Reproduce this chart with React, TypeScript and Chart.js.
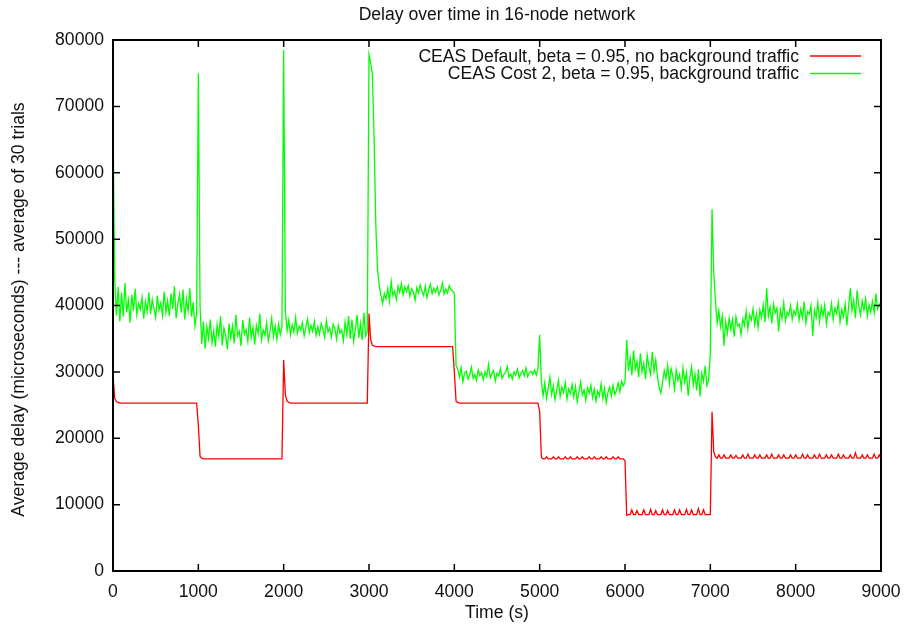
import React, { useEffect, useRef } from "react";
import { Chart, registerables } from "chart.js";

Chart.register(...registerables);

// ---- Text ----
const CHART_TITLE = "Delay over time in 16-node network";
const X_TITLE = "Time (s)";
const Y_TITLE = "Average delay (microseconds) --- average of 30 trials";
const SERIES_LABELS = [
  "CEAS Default, beta = 0.95, no background traffic",
  "CEAS Cost 2, beta = 0.95, background traffic",
];
const SERIES_COLORS = ["#ff0000", "#00ff00"];

// ---- Axes ----
const X_TICKS = [0, 1000, 2000, 3000, 4000, 5000, 6000, 7000, 8000, 9000];
const Y_TICKS = [0, 10000, 20000, 30000, 40000, 50000, 60000, 70000, 80000];

// Samples are taken every 20 s; delays below are in thousands of microseconds.
const SAMPLE_STEP_S = 20;

// ---- CEAS Default, no background traffic (per 1000 s block) ----
const noBg0k = [
  29.5, 26.0, 25.5, 25.4, 25.3, 25.3, 25.3, 25.3, 25.3, 25.3,
  25.3, 25.3, 25.3, 25.3, 25.3, 25.3, 25.3, 25.3, 25.3, 25.3,
  25.3, 25.3, 25.3, 25.3, 25.3, 25.3, 25.3, 25.3, 25.3, 25.3,
  25.3, 25.3, 25.3, 25.3, 25.3, 25.3, 25.3, 25.3, 25.3, 25.3,
  25.3, 25.3, 25.3, 25.3, 25.3, 25.3, 25.3, 25.3, 25.3, 25.3,
];
const noBg1k = [
  22.0, 17.3, 17.0, 16.9, 16.9, 16.9, 16.9, 16.9, 16.9, 16.9,
  16.9, 16.9, 16.9, 16.9, 16.9, 16.9, 16.9, 16.9, 16.9, 16.9,
  16.9, 16.9, 16.9, 16.9, 16.9, 16.9, 16.9, 16.9, 16.9, 16.9,
  16.9, 16.9, 16.9, 16.9, 16.9, 16.9, 16.9, 16.9, 16.9, 16.9,
  16.9, 16.9, 16.9, 16.9, 16.9, 16.9, 16.9, 16.9, 16.9, 16.9,
];
const noBg2k = [
  31.8, 26.5, 25.6, 25.4, 25.3, 25.3, 25.3, 25.3, 25.3, 25.3,
  25.3, 25.3, 25.3, 25.3, 25.3, 25.3, 25.3, 25.3, 25.3, 25.3,
  25.3, 25.3, 25.3, 25.3, 25.3, 25.3, 25.3, 25.3, 25.3, 25.3,
  25.3, 25.3, 25.3, 25.3, 25.3, 25.3, 25.3, 25.3, 25.3, 25.3,
  25.3, 25.3, 25.3, 25.3, 25.3, 25.3, 25.3, 25.3, 25.3, 25.3,
];
const noBg3k = [
  38.8, 34.8, 34.0, 33.9, 33.8, 33.8, 33.8, 33.8, 33.8, 33.8,
  33.8, 33.8, 33.8, 33.8, 33.8, 33.8, 33.8, 33.8, 33.8, 33.8,
  33.8, 33.8, 33.8, 33.8, 33.8, 33.8, 33.8, 33.8, 33.8, 33.8,
  33.8, 33.8, 33.8, 33.8, 33.8, 33.8, 33.8, 33.8, 33.8, 33.8,
  33.8, 33.8, 33.8, 33.8, 33.8, 33.8, 33.8, 33.8, 33.8, 33.8,
];
const noBg4k = [
  30.0, 25.6, 25.4, 25.3, 25.3, 25.3, 25.3, 25.3, 25.3, 25.3,
  25.3, 25.3, 25.3, 25.3, 25.3, 25.3, 25.3, 25.3, 25.3, 25.3,
  25.3, 25.3, 25.3, 25.3, 25.3, 25.3, 25.3, 25.3, 25.3, 25.3,
  25.3, 25.3, 25.3, 25.3, 25.3, 25.3, 25.3, 25.3, 25.3, 25.3,
  25.3, 25.3, 25.3, 25.3, 25.3, 25.3, 25.3, 25.3, 25.3, 25.3,
];
const noBg5k = [
  24.0, 17.1, 16.9, 16.9, 17.2, 16.9, 16.9, 16.9, 17.2, 16.9,
  16.9, 17.2, 16.9, 16.9, 16.9, 17.2, 16.9, 16.9, 17.2, 16.9,
  16.9, 16.9, 17.2, 16.9, 16.9, 17.2, 16.9, 16.9, 16.9, 17.2,
  16.9, 16.9, 17.2, 16.9, 16.9, 16.9, 17.2, 16.9, 16.9, 17.2,
  16.9, 16.9, 16.9, 17.2, 16.9, 16.9, 17.2, 16.9, 16.9, 16.9,
];
const noBg6k = [
  16.6, 8.4, 8.5, 8.5, 9.2, 8.5, 8.5, 9.1, 8.5, 8.5,
  8.5, 9.2, 8.5, 8.5, 8.5, 9.3, 8.5, 8.5, 9.1, 8.5,
  8.5, 8.5, 9.2, 8.5, 8.5, 9.1, 8.5, 8.5, 8.5, 9.2,
  8.5, 8.5, 9.2, 8.5, 8.5, 8.5, 9.3, 8.5, 8.5, 9.2,
  8.5, 8.5, 8.5, 9.4, 8.5, 8.5, 9.2, 8.5, 8.5, 8.5,
];
const noBg7k = [
  8.5, 24.0, 18.0, 17.2, 17.0, 17.5, 17.0, 17.0, 17.5, 17.0,
  17.0, 17.0, 17.5, 17.0, 17.0, 17.4, 17.0, 17.0, 17.0, 17.5,
  17.0, 17.0, 17.6, 17.0, 17.0, 17.0, 17.5, 17.0, 17.0, 17.5,
  17.0, 17.0, 17.0, 17.5, 17.0, 17.0, 17.6, 17.0, 17.0, 17.0,
  17.5, 17.0, 17.0, 17.5, 17.0, 17.0, 17.0, 17.5, 17.0, 17.0,
];
const noBg8k = [
  17.5, 17.0, 17.0, 17.0, 17.6, 17.0, 17.0, 17.5, 17.0, 17.0,
  17.0, 17.5, 17.0, 17.0, 17.6, 17.0, 17.0, 17.0, 17.5, 17.0,
  17.0, 17.5, 17.0, 17.0, 17.0, 17.6, 17.0, 17.0, 17.5, 17.0,
  17.0, 17.0, 17.5, 17.0, 17.0, 17.8, 17.0, 17.0, 17.0, 17.5,
  17.0, 17.0, 17.5, 17.0, 17.0, 17.0, 17.6, 17.0, 17.0, 17.5,
];
const noBgEnd = [17.0];

// ---- CEAS Cost 2, background traffic (per 1000 s block) ----
const bg0k = [
  68.0, 44.0, 38.5, 42.8, 37.6, 41.9, 38.3, 43.4, 39.0, 40.8,
  37.4, 41.6, 39.2, 42.5, 38.6, 40.3, 39.4, 41.2, 38.0, 40.6,
  39.1, 42.0, 38.7, 40.9, 39.6, 38.2, 41.5, 39.3, 40.4, 38.5,
  42.1, 39.0, 40.7, 38.4, 41.8, 39.5, 42.9, 38.1, 40.2, 41.7,
  38.9, 42.4, 37.9, 41.0, 39.2, 42.6, 38.3, 40.5, 36.9, 38.8,
];
const bg1k = [
  75.0, 40.0, 34.2, 37.6, 33.5, 36.8, 35.0, 37.9, 34.4, 36.2,
  33.8, 37.1, 35.3, 38.4, 34.0, 36.6, 35.6, 33.4, 37.3, 35.1,
  36.9, 34.3, 38.6, 35.4, 36.1, 33.9, 37.8, 35.7, 36.4, 34.6,
  38.2, 35.2, 36.7, 34.1, 37.0, 35.8, 38.8, 34.8, 36.3, 35.5,
  37.4, 34.7, 36.0, 38.1, 35.3, 36.9, 34.9, 37.2, 35.6, 36.8,
];
const bg2k = [
  78.5, 39.0, 36.2, 37.8, 35.6, 37.1, 36.0, 38.2, 35.8, 36.9,
  36.3, 37.4, 35.4, 36.7, 38.0, 35.9, 37.0, 36.1, 37.6, 35.5,
  36.8, 35.7, 37.3, 36.4, 35.2, 37.7, 36.0, 36.6, 35.3, 37.2,
  36.5, 34.9, 37.0, 35.8, 36.3, 34.7, 37.5, 35.6, 38.4, 35.0,
  37.9, 34.6, 36.4, 38.6, 35.1, 37.3, 34.8, 38.9, 35.4, 36.0,
];
const bg3k = [
  77.8, 76.5, 74.8, 65.0, 52.0, 45.5, 43.0, 41.5, 40.3, 41.8,
  41.0, 42.6, 40.6, 43.6, 41.5, 42.2, 40.9, 42.9, 42.0, 43.3,
  41.6, 42.8, 42.1, 43.0, 41.4, 42.5, 42.0, 40.8, 42.7, 41.9,
  43.1, 42.2, 41.5, 42.9, 41.2, 42.4, 43.2, 41.8, 42.6, 42.0,
  42.8, 41.6, 42.3, 43.4, 41.7, 42.5, 41.9, 43.0, 42.4, 42.2,
];
const bg4k = [
  41.8, 31.0, 30.4, 29.2, 30.6, 28.5, 29.8, 30.1, 28.9, 29.5,
  30.7, 29.0, 29.6, 28.7, 30.3, 29.4, 29.9, 28.8, 30.0, 29.3,
  31.1, 29.1, 29.7, 30.2, 28.6, 29.8, 29.4, 30.5, 29.0, 29.6,
  29.9, 30.8, 29.2, 29.7, 28.9, 30.0, 29.5, 30.4, 29.1, 29.8,
  30.2, 29.4, 30.6, 29.3, 29.9, 30.1, 29.6, 30.3, 29.5, 30.5,
];
const bg5k = [
  35.6, 28.6, 26.4, 28.3, 26.0, 27.5, 29.2, 26.6, 27.9, 25.8,
  27.2, 28.7, 26.3, 27.7, 26.9, 28.4, 25.9, 27.4, 26.7, 28.1,
  26.2, 27.8, 25.5, 27.0, 28.5, 26.5, 27.3, 25.7, 27.6, 26.8,
  28.0, 26.1, 27.4, 25.6, 27.1, 26.4, 28.2, 26.0, 27.5, 25.4,
  26.9, 27.7, 26.3, 28.0, 26.6, 27.2, 28.3, 27.0, 28.6, 27.9,
];
const bg6k = [
  28.4, 34.8, 30.2, 32.1, 29.5, 33.2, 30.4, 31.6, 29.2, 32.8,
  30.0, 31.3, 28.9, 32.5, 30.8, 29.6, 33.0, 30.1, 31.8, 29.3,
  27.6, 26.8, 28.4, 30.2, 29.0, 31.0, 28.2, 30.5, 29.4, 27.4,
  30.3, 28.7, 29.6, 27.5, 30.6, 28.5, 29.9, 26.4, 29.1, 30.8,
  28.0, 29.7, 27.2, 30.4, 26.3, 29.8, 28.6, 30.9, 27.9, 28.7,
];
const bg7k = [
  32.8, 54.5, 45.0, 40.6, 37.4, 39.2, 36.8, 38.4, 33.9, 37.6,
  35.8, 38.1, 36.4, 37.9, 35.3, 38.3, 36.9, 37.2, 35.6, 38.0,
  37.0, 39.1, 36.5, 38.6, 37.8, 39.5, 37.1, 38.8, 36.7, 39.3,
  38.2, 40.1, 37.5, 42.6, 38.4, 39.8, 37.3, 40.2, 38.9, 39.6,
  36.1, 39.4, 38.0, 40.4, 37.7, 39.0, 38.5, 40.0, 37.9, 39.2,
];
const bg8k = [
  38.6, 40.2, 37.8, 39.5, 38.1, 40.6, 37.4, 39.1, 38.7, 40.0,
  35.4, 39.3, 38.2, 40.4, 37.6, 39.8, 38.4, 40.1, 37.2, 39.0,
  38.5, 40.3, 37.9, 39.6, 38.8, 40.5, 37.5, 39.4, 38.3, 40.2,
  37.0, 39.7, 42.6, 39.2, 40.8, 38.1, 42.3, 39.9, 38.6, 40.7,
  39.3, 41.0, 38.4, 40.1, 39.0, 40.6, 38.9, 41.8, 39.5, 40.2,
];
const bgEnd = [39.6];

const noBgDelayK = [
  ...noBg0k, ...noBg1k, ...noBg2k, ...noBg3k, ...noBg4k,
  ...noBg5k, ...noBg6k, ...noBg7k, ...noBg8k, ...noBgEnd,
];
const bgDelayK = [
  ...bg0k, ...bg1k, ...bg2k, ...bg3k, ...bg4k,
  ...bg5k, ...bg6k, ...bg7k, ...bg8k, ...bgEnd,
];

const toPoints = (delaysK: number[]) =>
  delaysK.map((k, i) => ({ x: i * SAMPLE_STEP_S, y: k * 1000 }));

const FONT_FAMILY = '"Liberation Sans", Arial, Helvetica, sans-serif';
const FONT_SIZE = 17.6;
const TEXT_COLOR = "#111111";

// Frame with inward, mirrored ticks, plus title, axis titles and key.
const gnuplotDecor = {
  id: "gnuplotDecor",
  afterDatasetsDraw(chart: any) {
    const { ctx, chartArea: a, scales } = chart;
    const tickLen = 7;
    ctx.save();
    ctx.strokeStyle = "#000";
    ctx.lineWidth = 1.5;
    ctx.beginPath();
    for (const t of scales.x.ticks) {
      const px = scales.x.getPixelForValue(t.value);
      ctx.moveTo(px, a.bottom);
      ctx.lineTo(px, a.bottom - tickLen);
      ctx.moveTo(px, a.top);
      ctx.lineTo(px, a.top + tickLen);
    }
    for (const t of scales.y.ticks) {
      const py = scales.y.getPixelForValue(t.value);
      ctx.moveTo(a.left, py);
      ctx.lineTo(a.left + tickLen, py);
      ctx.moveTo(a.right, py);
      ctx.lineTo(a.right - tickLen, py);
    }
    ctx.stroke();
    ctx.lineWidth = 2;
    ctx.strokeRect(a.left, a.top, a.right - a.left, a.bottom - a.top);
    ctx.restore();
  },
  afterDraw(chart: any) {
    const { ctx, chartArea: a } = chart;
    const midX = (a.left + a.right) / 2;
    ctx.save();
    ctx.fillStyle = TEXT_COLOR;
    ctx.font = `${FONT_SIZE}px ${FONT_FAMILY}`;

    ctx.textAlign = "center";
    ctx.textBaseline = "alphabetic";
    ctx.fillText(CHART_TITLE, midX, 20);
    ctx.fillText(X_TITLE, midX, a.bottom + 47);

    ctx.save();
    ctx.translate(24, (a.top + a.bottom) / 2 + 4);
    ctx.rotate(-Math.PI / 2);
    ctx.fillText(Y_TITLE, 0, 0);
    ctx.restore();

    // key in the upper right corner
    ctx.textAlign = "right";
    ctx.textBaseline = "middle";
    chart.data.datasets.forEach((ds: any, i: number) => {
      const y = a.top + 16 + i * 17.5;
      ctx.fillText(ds.label, a.right - 82, y + 1);
      ctx.strokeStyle = ds.borderColor;
      ctx.lineWidth = 1.3;
      ctx.beginPath();
      ctx.moveTo(a.right - 71, y);
      ctx.lineTo(a.right - 20, y);
      ctx.stroke();
    });
    ctx.restore();
  },
};

export default function App() {
  const canvasRef = useRef<HTMLCanvasElement | null>(null);

  useEffect(() => {
    document.body.style.margin = "0";
    const canvas = canvasRef.current;
    if (!canvas) return;
    const chart = new Chart(canvas, {
      type: "line",
      data: {
        datasets: [
          {
            label: SERIES_LABELS[0],
            data: toPoints(noBgDelayK),
            borderColor: SERIES_COLORS[0],
            borderWidth: 1.3,
            pointRadius: 0,
            tension: 0,
            order: 1,
          },
          {
            label: SERIES_LABELS[1],
            data: toPoints(bgDelayK),
            borderColor: SERIES_COLORS[1],
            borderWidth: 1.3,
            pointRadius: 0,
            tension: 0,
            order: 0,
          },
        ],
      },
      options: {
        animation: false,
        responsive: false,
        devicePixelRatio: 1,
        layout: { padding: { top: 40, right: 25, left: 0, bottom: 0 } },
        plugins: {
          legend: { display: false },
          title: { display: false },
          tooltip: { enabled: false },
        },
        scales: {
          x: {
            type: "linear",
            min: 0,
            max: 9000,
            afterBuildTicks: (s: any) => {
              s.ticks = X_TICKS.map((v) => ({ value: v }));
            },
            afterFit: (s: any) => {
              s.height = 59;
              s.paddingLeft = 0;
              s.paddingRight = 0;
            },
            grid: { display: false, drawTicks: false },
            border: { display: false },
            ticks: {
              autoSkip: false,
              maxRotation: 0,
              padding: 11,
              color: TEXT_COLOR,
              font: { family: FONT_FAMILY, size: FONT_SIZE },
              callback: (v: any) => String(v),
            },
          },
          y: {
            type: "linear",
            min: 0,
            max: 80000,
            afterBuildTicks: (s: any) => {
              s.ticks = Y_TICKS.map((v) => ({ value: v }));
            },
            afterFit: (s: any) => {
              s.width = 113;
              s.paddingTop = 0;
              s.paddingBottom = 0;
            },
            grid: { display: false, drawTicks: false },
            border: { display: false },
            ticks: {
              autoSkip: false,
              padding: 9,
              color: TEXT_COLOR,
              font: { family: FONT_FAMILY, size: FONT_SIZE },
              callback: (v: any) => String(v),
            },
          },
        },
      },
      plugins: [gnuplotDecor],
    });
    return () => chart.destroy();
  }, []);

  return (
    <div style={{ width: 906, height: 630, background: "#fff" }}>
      <canvas ref={canvasRef} width={906} height={630} />
    </div>
  );
}
